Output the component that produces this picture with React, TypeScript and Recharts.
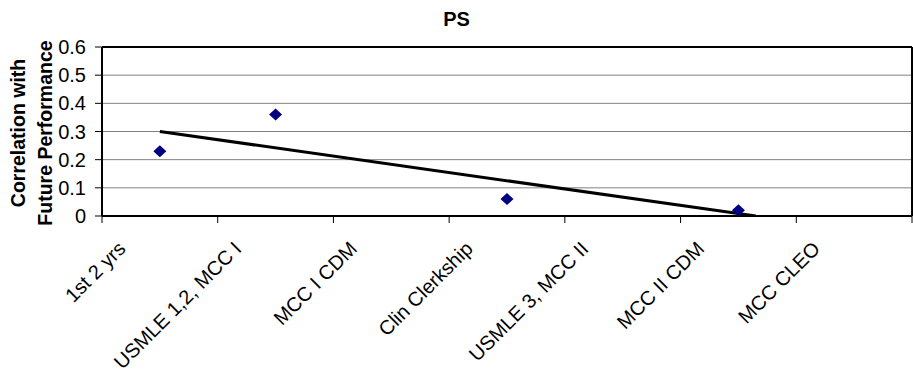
import React from "react";
import {
  ScatterChart,
  Scatter,
  XAxis,
  YAxis,
  CartesianGrid,
  ReferenceLine,
} from "recharts";

// ---- data ----
const categories = [
  "1st 2 yrs",
  "USMLE 1,2, MCC I",
  "MCC I CDM",
  "Clin Clerkship",
  "USMLE 3, MCC II",
  "MCC II CDM",
  "MCC CLEO",
];
const psValues: (number | null)[] = [0.23, 0.36, null, 0.06, null, 0.02, null];
const trendX = [1, 6.15];
const trendY = [0.3, 0.0];
const yTicks = [0, 0.1, 0.2, 0.3, 0.4, 0.5, 0.6];
const title = "PS";
const yLabelLines = ["Correlation with", "Future Performance"];

// ---- layout ----
const W = 913;
const H = 379;
const LEFT = 102;
const RIGHT_M = 1;
const TOP = 47;
const BOTTOM_AXIS_H = 163;
const PLOT_W = W - LEFT - RIGHT_M;
const BAND = PLOT_W / categories.length;
const FONT = "'Liberation Sans', Arial, sans-serif";

const points = psValues
  .map((v, i) => (v === null ? null : { x: i + 1, y: v }))
  .filter((p) => p !== null) as { x: number; y: number }[];
const trend = trendX.map((x, i) => ({ x, y: trendY[i] }));
const xTicks = Array.from({ length: categories.length + 1 }, (_, i) => i + 0.5);

const CategoryTick = (props: any) => {
  const { x, y, payload } = props;
  const i = Math.round(payload.value - 0.5);
  if (i < 0 || i >= categories.length) return null;
  const ax = x + BAND / 2 - 33;
  const ay = y + 25;
  return (
    <text
      x={ax}
      y={ay}
      textAnchor="end"
      transform={`rotate(-45, ${ax}, ${ay})`}
      fontSize={20}
      fontFamily={FONT}
      fill="#000"
    >
      {categories[i]}
    </text>
  );
};

const Diamond = (props: any) => {
  const { cx, cy } = props;
  const hw = 6.5;
  const hh = 6;
  return (
    <path
      d={`M${cx},${cy - hh} L${cx + hw},${cy} L${cx},${cy + hh} L${cx - hw},${cy} Z`}
      fill="#000080"
    />
  );
};

const Nothing = () => <g />;

const YLabel = () => (
  <g>
    <text
      x={25}
      y={133}
      textAnchor="middle"
      transform="rotate(-90, 25, 133)"
      fontSize={19.5}
      fontWeight="bold"
      fontFamily={FONT}
      fill="#000"
    >
      {yLabelLines[0]}
    </text>
    <text
      x={52}
      y={133}
      textAnchor="middle"
      transform="rotate(-90, 52, 133)"
      fontSize={19.5}
      fontWeight="bold"
      fontFamily={FONT}
      fill="#000"
    >
      {yLabelLines[1]}
    </text>
  </g>
);

export default function App() {
  return (
    <div
      style={{
        position: "absolute",
        left: 0,
        top: 0,
        width: W,
        height: H,
        background: "#fff",
        fontFamily: FONT,
      }}
    >
      <div
        style={{
          position: "absolute",
          left: 0,
          top: 9,
          width: W,
          textAlign: "center",
          fontSize: 20,
          lineHeight: "20px",
          fontWeight: "bold",
          color: "#000",
        }}
      >
        {title}
      </div>
      <ScatterChart
        width={W}
        height={H}
        margin={{ top: TOP, right: RIGHT_M, bottom: 0, left: 0 }}
      >
        <CartesianGrid horizontal vertical={false} stroke="#808080" strokeWidth={1} />
        <XAxis
          type="number"
          dataKey="x"
          domain={[0.5, 7.5]}
          ticks={xTicks}
          interval={0}
          height={BOTTOM_AXIS_H}
          tick={<CategoryTick />}
          tickSize={7}
          axisLine={{ stroke: "#000", strokeWidth: 2 }}
          tickLine={{ stroke: "#000", strokeWidth: 1 }}
          allowDataOverflow
        />
        <YAxis
          type="number"
          dataKey="y"
          domain={[0, 0.6]}
          ticks={yTicks}
          interval={0}
          width={LEFT}
          tickSize={7}
          tickMargin={9}
          tickFormatter={(v: number) => (v === 0 ? "0" : v.toFixed(1))}
          tick={{ fontSize: 20, fill: "#000", fontFamily: FONT }}
          axisLine={{ stroke: "#000", strokeWidth: 2 }}
          tickLine={{ stroke: "#000", strokeWidth: 1 }}
          label={{ content: <YLabel /> }}
          allowDataOverflow
        />
        <ReferenceLine y={0.6} stroke="#000" strokeWidth={2} />
        <ReferenceLine x={7.5} stroke="#000" strokeWidth={2} />
        <Scatter
          data={trend}
          line={{ stroke: "#000", strokeWidth: 3 }}
          shape={<Nothing />}
          isAnimationActive={false}
          legendType="none"
        />
        <Scatter
          data={points}
          shape={<Diamond />}
          fill="#000080"
          isAnimationActive={false}
        />
      </ScatterChart>
    </div>
  );
}
